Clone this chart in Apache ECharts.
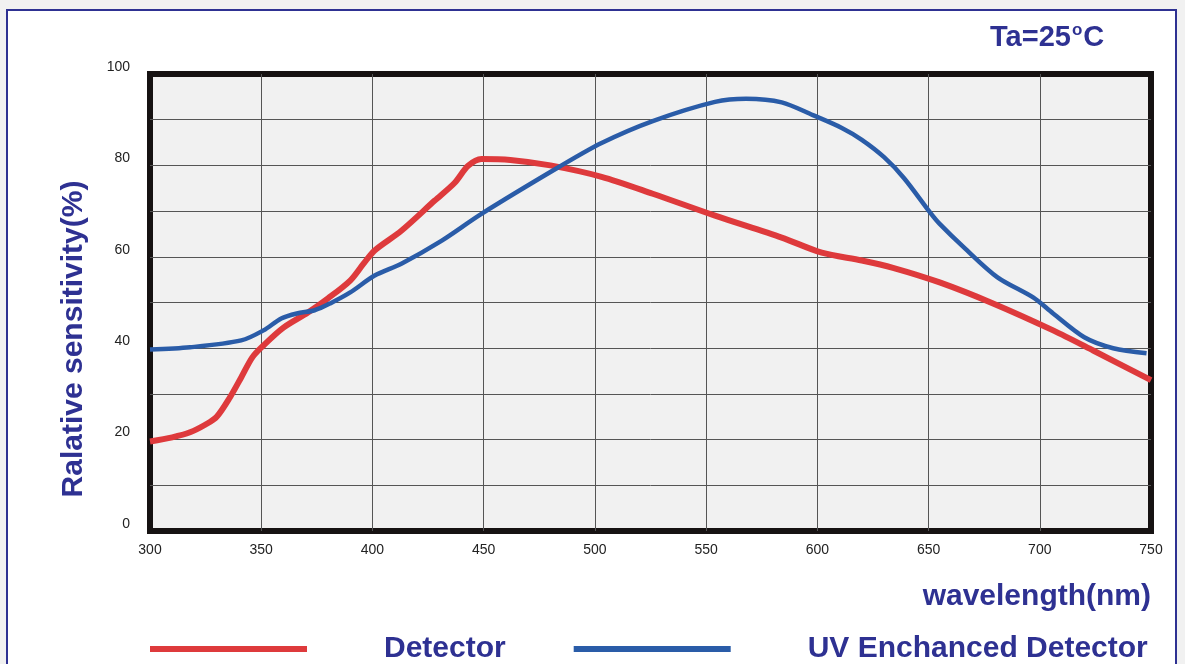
<!DOCTYPE html>
<html>
<head>
<meta charset="utf-8">
<style>
  html, body { margin: 0; padding: 0; background: #f1f1f1; }
  #chart { width: 1185px; height: 664px; }
</style>
<script src="https://cdn.jsdelivr.net/npm/echarts@6/dist/echarts.min.js"></script>
</head>
<body>
<div id="chart"></div>
<script>
// wavelength (nm) / relative sensitivity (%)
const detectorWl = [300, 310, 318, 325, 330, 336, 341, 346, 351, 360, 371, 380, 390, 396, 401, 413, 428, 437, 443, 449, 462, 480, 503, 526, 554, 584, 602, 620, 634, 655, 679, 706, 724, 750];
const detectorVal = [19.6, 20.5, 21.6, 23.3, 25, 29.3, 33.6, 38, 40.6, 44.5, 47.8, 50.9, 54.8, 58.5, 61.4, 65.7, 72.3, 76.2, 79.9, 81.4, 81.2, 80, 77.5, 73.8, 69, 64.2, 60.9, 59.2, 57.6, 54.4, 49.8, 43.9, 39.5, 33];

const uvWl = [300, 318, 341, 351, 359, 366, 374, 381, 390, 401, 413, 431, 449, 484, 503, 526, 554, 568, 584, 598, 611, 620, 630, 639, 651, 655, 666, 681, 697, 706, 720, 733, 748];
const uvVal = [39.7, 40.2, 41.7, 43.9, 46.5, 47.6, 48.3, 49.8, 52.2, 55.9, 58.5, 63.5, 69.4, 79.7, 84.9, 89.7, 93.9, 94.6, 93.8, 91.0, 88.2, 85.6, 81.8, 77.2, 69.5, 67.2, 62, 55.5, 51.1, 47.6, 42.4, 40, 38.9];

const seriesNames = ['Detector', 'UV Enchanced Detector'];
const yTickLabels = [0, 20, 40, 60, 80, 100];

const navy = '#2e3192';
const font = '"Liberation Sans", Arial, Helvetica, sans-serif';

const chart = echarts.init(document.getElementById('chart'));

chart.setOption({
  backgroundColor: '#f1f1f1',
  animation: false,
  textStyle: { fontFamily: font },
  graphic: [
    {
      type: 'rect',
      z: -10,
      shape: { x: 7, y: 10, width: 1169, height: 700 },
      style: { fill: '#fff', stroke: navy, lineWidth: 2 }
    },
    {
      type: 'text',
      left: 990,
      top: 22,
      style: {
        text: '{a|Ta=25}{s|o}{a|C}',
        rich: {
          a: { fontSize: 29, fontWeight: 'bold', fill: navy, fontFamily: font, lineHeight: 32 },
          s: { fontSize: 17, fontWeight: 'bold', fill: navy, fontFamily: font, lineHeight: 32, verticalAlign: 'top', padding: [0, 1, 8, 1] }
        }
      }
    },
    {
      type: 'text',
      x: 1151,
      y: 597,
      style: {
        text: 'wavelength(nm)',
        fontSize: 30, fontWeight: 'bold', fill: navy, fontFamily: font,
        align: 'right', verticalAlign: 'middle'
      }
    },
    {
      type: 'text',
      x: 74,
      y: 339,
      rotation: Math.PI / 2,
      style: {
        text: 'Ralative sensitivity(%)',
        fontSize: 30, fontWeight: 'bold', fill: navy, fontFamily: font,
        align: 'center', verticalAlign: 'middle'
      }
    }
  ],
  legend: {
    data: seriesNames,
    left: 150,
    top: 634,
    padding: 0,
    icon: 'rect',
    itemWidth: 157,
    itemHeight: 6,
    itemGap: 68,
    textStyle: {
      fontSize: 30,
      fontWeight: 'bold',
      color: navy,
      fontFamily: font,
      padding: [0, 0, 0, 72]
    }
  },
  grid: {
    left: 150,
    right: 34,
    top: 74,
    bottom: 133,
    show: true,
    backgroundColor: '#f1f1f1',
    borderColor: '#161212',
    borderWidth: 6
  },
  xAxis: {
    type: 'value',
    min: 300,
    max: 750,
    interval: 50,
    axisLine: { show: false },
    axisTick: { show: false },
    axisLabel: { fontSize: 14, color: '#222', margin: 12, fontFamily: font },
    splitLine: { showMinLine: false, showMaxLine: false, lineStyle: { color: '#555', width: 1 } }
  },
  yAxis: {
    type: 'value',
    min: 0,
    max: 100,
    interval: 10,
    axisLine: { show: false },
    axisTick: { show: false },
    axisLabel: {
      fontSize: 14,
      color: '#222',
      margin: 20,
      fontFamily: font,
      verticalAlign: 'bottom',
      formatter: v => (yTickLabels.indexOf(v) >= 0 ? String(v) : '')
    },
    splitLine: { showMinLine: false, showMaxLine: false, lineStyle: { color: '#555', width: 1 } }
  },
  series: [
    {
      name: seriesNames[0],
      type: 'line',
      smooth: 0.3,
      showSymbol: false,
      color: '#de3a3c',
      lineStyle: { width: 6, color: '#de3a3c' },
      data: detectorWl.map((w, i) => [w, detectorVal[i]])
    },
    {
      name: seriesNames[1],
      type: 'line',
      smooth: 0.3,
      showSymbol: false,
      color: '#2a5ca8',
      lineStyle: { width: 4.5, color: '#2a5ca8' },
      data: uvWl.map((w, i) => [w, uvVal[i]])
    }
  ]
});
</script>
</body>
</html>
